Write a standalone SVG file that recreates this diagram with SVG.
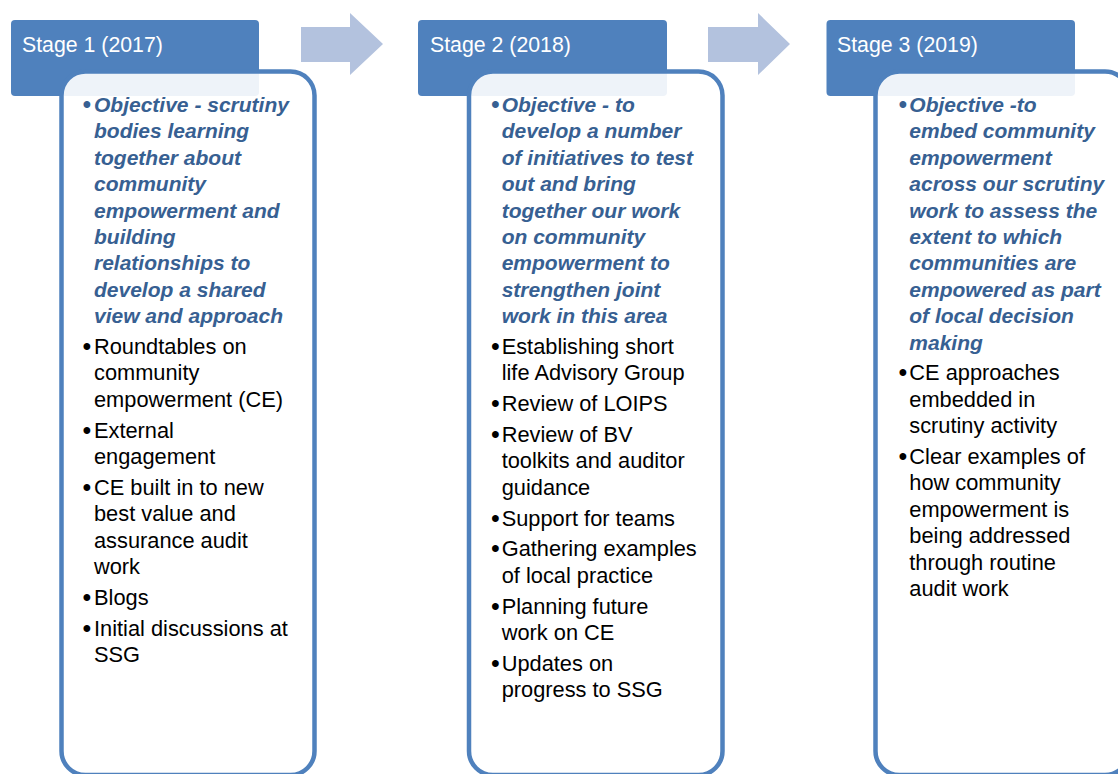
<svg xmlns="http://www.w3.org/2000/svg" width="1118" height="774" viewBox="0 0 1118 774">
<style>
.hdr{fill:#4F81BD;}
.card{fill:#FFFFFF;fill-opacity:0.9;stroke:#4F81BD;stroke-width:4.5;}
.htxt{font-family:"Liberation Sans",Arial,sans-serif;font-size:21.3px;fill:#FFFFFF;}
.obj{font-family:"Liberation Sans",Arial,sans-serif;font-size:21px;font-weight:bold;font-style:italic;fill:#376092;}
.txt{font-family:"Liberation Sans",Arial,sans-serif;font-size:21.8px;fill:#000000;}
.bo{font-family:"Liberation Sans",Arial,sans-serif;font-size:25px;fill:#376092;text-anchor:middle;}
.bt{font-family:"Liberation Sans",Arial,sans-serif;font-size:25px;fill:#000000;text-anchor:middle;}
.arr{fill:#B3C2DE;}
</style>
<rect width="1118" height="774" fill="#FFFFFF"/>
<g id="connectors">
<polygon class="arr" points="301,27 350,27 350,13 383,44 350,75 350,62 301,62"/>
<polygon class="arr" points="708,27 758,27 758,13 790,44 758,75 758,62 708,62"/>
</g>
<g id="stage1">
<rect class="hdr" x="11" y="20" width="248" height="76" rx="4"/>
<text class="htxt" x="22" y="52">Stage 1 (2017)</text>
<rect class="card" x="61.5" y="71.5" width="253" height="703.5" rx="24"/>
<text class="bo" x="87" y="113">•</text>
<text class="obj" x="94" y="112">Objective - scrutiny</text>
<text class="obj" x="94" y="138.4">bodies learning</text>
<text class="obj" x="94" y="164.8">together about</text>
<text class="obj" x="94" y="191.2">community</text>
<text class="obj" x="94" y="217.6">empowerment and</text>
<text class="obj" x="94" y="244">building</text>
<text class="obj" x="94" y="270.4">relationships to</text>
<text class="obj" x="94" y="296.8">develop a shared</text>
<text class="obj" x="94" y="323.2">view and approach</text>
<text class="bt" x="87" y="355">•</text>
<text class="txt" x="94" y="354">Roundtables on</text>
<text class="txt" x="94" y="380.4">community</text>
<text class="txt" x="94" y="406.8">empowerment (CE)</text>
<text class="bt" x="87" y="438.6">•</text>
<text class="txt" x="94" y="437.6">External</text>
<text class="txt" x="94" y="464">engagement</text>
<text class="bt" x="87" y="495.8">•</text>
<text class="txt" x="94" y="494.8">CE built in to new</text>
<text class="txt" x="94" y="521.2">best value and</text>
<text class="txt" x="94" y="547.6">assurance audit</text>
<text class="txt" x="94" y="574">work</text>
<text class="bt" x="87" y="605.8">•</text>
<text class="txt" x="94" y="604.8">Blogs</text>
<text class="bt" x="87" y="636.6">•</text>
<text class="txt" x="94" y="635.6">Initial discussions at</text>
<text class="txt" x="94" y="662">SSG</text>
</g>
<g id="stage2">
<rect class="hdr" x="418" y="20" width="249" height="76" rx="4"/>
<text class="htxt" x="430" y="52">Stage 2 (2018)</text>
<rect class="card" x="469" y="71.5" width="253.5" height="703.5" rx="24"/>
<text class="bo" x="495.5" y="113">•</text>
<text class="obj" x="501.7" y="112">Objective - to</text>
<text class="obj" x="501.7" y="138.4">develop a number</text>
<text class="obj" x="501.7" y="164.8">of initiatives to test</text>
<text class="obj" x="501.7" y="191.2">out and bring</text>
<text class="obj" x="501.7" y="217.6">together our work</text>
<text class="obj" x="501.7" y="244">on community</text>
<text class="obj" x="501.7" y="270.4">empowerment to</text>
<text class="obj" x="501.7" y="296.8">strengthen joint</text>
<text class="obj" x="501.7" y="323.2">work in this area</text>
<text class="bt" x="495.5" y="355">•</text>
<text class="txt" x="501.7" y="354">Establishing short</text>
<text class="txt" x="501.7" y="380.4">life Advisory Group</text>
<text class="bt" x="495.5" y="412.2">•</text>
<text class="txt" x="501.7" y="411.2">Review of LOIPS</text>
<text class="bt" x="495.5" y="443">•</text>
<text class="txt" x="501.7" y="442">Review of BV</text>
<text class="txt" x="501.7" y="468.4">toolkits and auditor</text>
<text class="txt" x="501.7" y="494.8">guidance</text>
<text class="bt" x="495.5" y="526.6">•</text>
<text class="txt" x="501.7" y="525.6">Support for teams</text>
<text class="bt" x="495.5" y="557.4">•</text>
<text class="txt" x="501.7" y="556.4">Gathering examples</text>
<text class="txt" x="501.7" y="582.8">of local practice</text>
<text class="bt" x="495.5" y="614.6">•</text>
<text class="txt" x="501.7" y="613.6">Planning future</text>
<text class="txt" x="501.7" y="640">work on CE</text>
<text class="bt" x="495.5" y="671.8">•</text>
<text class="txt" x="501.7" y="670.8">Updates on</text>
<text class="txt" x="501.7" y="697.2">progress to SSG</text>
</g>
<g id="stage3">
<rect class="hdr" x="826.5" y="20" width="248.5" height="76" rx="4"/>
<text class="htxt" x="837" y="52">Stage 3 (2019)</text>
<rect class="card" x="875.5" y="71.5" width="253.5" height="703.5" rx="24"/>
<text class="bo" x="903" y="113">•</text>
<text class="obj" x="909.3" y="112">Objective -to</text>
<text class="obj" x="909.3" y="138.4">embed community</text>
<text class="obj" x="909.3" y="164.8">empowerment</text>
<text class="obj" x="909.3" y="191.2">across our scrutiny</text>
<text class="obj" x="909.3" y="217.6">work to assess the</text>
<text class="obj" x="909.3" y="244">extent to which</text>
<text class="obj" x="909.3" y="270.4">communities are</text>
<text class="obj" x="909.3" y="296.8">empowered as part</text>
<text class="obj" x="909.3" y="323.2">of local decision</text>
<text class="obj" x="909.3" y="349.6">making</text>
<text class="bt" x="903" y="381.4">•</text>
<text class="txt" x="909.3" y="380.4">CE approaches</text>
<text class="txt" x="909.3" y="406.8">embedded in</text>
<text class="txt" x="909.3" y="433.2">scrutiny activity</text>
<text class="bt" x="903" y="465">•</text>
<text class="txt" x="909.3" y="464">Clear examples of</text>
<text class="txt" x="909.3" y="490.4">how community</text>
<text class="txt" x="909.3" y="516.8">empowerment is</text>
<text class="txt" x="909.3" y="543.2">being addressed</text>
<text class="txt" x="909.3" y="569.6">through routine</text>
<text class="txt" x="909.3" y="596">audit work</text>
</g>
</svg>
